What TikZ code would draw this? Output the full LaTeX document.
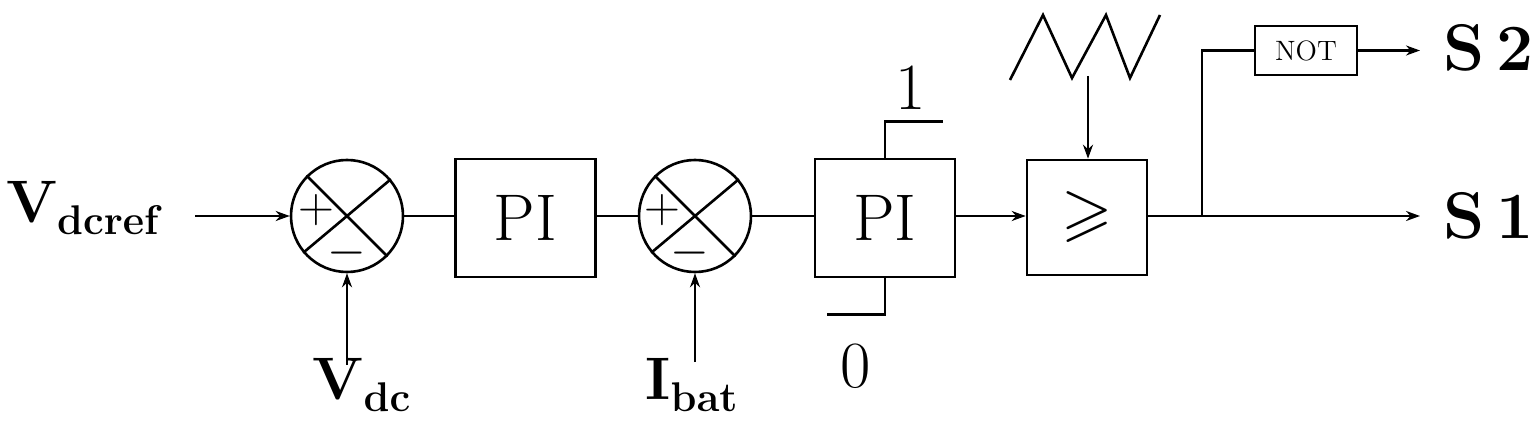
\documentclass[tikz,border=0pt]{standalone}
\usepackage{amssymb}
\usetikzlibrary{arrows.meta,calc}
\begin{document}
\begin{tikzpicture}[x=0.5pt,y=-0.5pt,line width=1.3pt,
  blk/.style={draw,minimum width=70pt,minimum height=59pt,inner sep=0pt},
  arr/.style={-{Stealth[length=7pt,width=5pt]}},
  big/.style={font=\fontsize{33}{36}\selectfont},
  lab/.style={font=\fontsize{30}{32}\selectfont\bfseries},
  sgn/.style={font=\fontsize{24}{24}\selectfont,inner sep=0pt}]
\useasboundingbox (0,0) rectangle (1532,433);
% summing junctions
\node[draw,circle,minimum size=56pt,inner sep=0pt] (s1) at (347,216) {};
\node[draw,circle,minimum size=56pt,inner sep=0pt] (s2) at (695,216) {};
\foreach \s in {s1,s2}{
  \draw (\s.135) -- (\s.-45);
  \draw (\s.40) -- (\s.220);
}
\node[sgn] at ($(s1)+(-31,-6)$) {$+$};
\node[sgn] at ($(s1)+(0,37)$) {$-$};
\node[sgn] at ($(s2)+(-33,-6)$) {$+$};
\node[sgn] at ($(s2)+(-5,37)$) {$-$};
% blocks
\node[blk,big] (pi1) at (525.5,218) {PI};
\node[blk,big] (pi2) at (885,218) {PI};
\node[blk,minimum width=60pt,minimum height=57.5pt,big] (cmp) at (1087,217.5) {$\geqslant$};
\node[draw,minimum width=51pt,minimum height=24.5pt,inner sep=0pt,font=\fontsize{14}{14}\selectfont] (not) at (1306,50.5) {NOT};
% labels
\node[lab] (vref) at (85,208) {V$_{\mathbf{dcref}}$};
\node[lab] (vdc) at (362,385) {V$_{\mathbf{dc}}$};
\node[lab] (ibat) at (692,385) {I$_{\mathbf{bat}}$};
\node[big] (one) at (911,88) {1};
\node[big] (zero) at (856,366) {0};
\node[big,font=\fontsize{33}{36}\selectfont\bfseries,anchor=west] (S2) at (1436,48) {S\,2};
\node[big,font=\fontsize{33}{36}\selectfont\bfseries,anchor=west] (S1) at (1436,216) {S\,1};
% connections
\coordinate (vin) at (195,216);
\draw[arr] (vin) -- (s1.west);
\coordinate (vdcs) at (347,365);
\draw[arr] (vdcs) -- (s1.south);
\coordinate (ibs) at (695,362);
\draw[arr] (ibs) -- (s2.south);
\draw (s1.east) -- (s1.east -| pi1.west);
\draw (pi1.east |- s2.west) -- (s2.west);
\draw (s2.east) -- (s2.east -| pi2.west);
\draw[arr] (pi2.east |- s2.east) -- (s2.east -| cmp.west);
% saturation limits
\draw (pi2.north) -- ++(0,-36) -- ++(58,0);
\draw (pi2.south) -- ++(0,36) -- ++(-58,0);
% triangle wave
\draw (1010,80) -- (1043,15) -- (1072,78) -- (1106,15) -- (1130,78) -- (1160,15);
\coordinate (tri) at (1088,76);
\draw[arr] (tri) -- (tri |- cmp.north);
% outputs
\coordinate (br) at (1202,216);
\coordinate (s1e) at (1420,216);
\draw (cmp.east |- br) -- (br);
\draw[arr] (br) -- (s1e);
\draw (br) |- (not.west);
\coordinate (s2e) at (1420,50.5);
\draw[arr] (not.east) -- (s2e);
\end{tikzpicture}
\end{document}
